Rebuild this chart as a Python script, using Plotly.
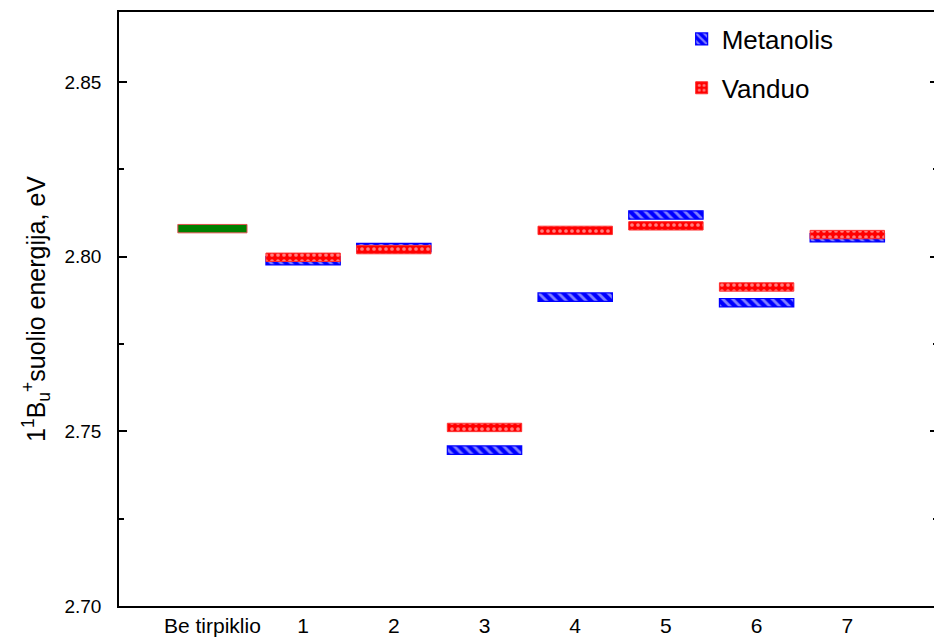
import plotly.graph_objects as go

categories = ["Be tirpiklio", "1", "2", "3", "4", "5", "6", "7"]
positions = [0, 1, 2, 3, 4, 5, 6, 7]
no_solvent = [2.8080]
metanolis = [2.7988, 2.8026, 2.7446, 2.7884, 2.8119, 2.7868, 2.8054]
vanduo = [2.7998, 2.8020, 2.7511, 2.8075, 2.8088, 2.7913, 2.8063]
y_ticks = [2.70, 2.75, 2.80, 2.85]

H = 0.0024
W = 0.82

fig = go.Figure()
fig.add_trace(go.Bar(
    x=positions[:1], y=[H] * len(no_solvent), base=[v - H / 2 for v in no_solvent],
    width=W * 0.93, showlegend=False,
    marker=dict(color="#008000", line=dict(color="#e05050", width=1)),
))
fig.add_trace(go.Bar(
    x=positions[1:], y=[H] * len(metanolis), base=[v - H / 2 for v in metanolis],
    width=W, name="Metanolis", legendgroup="m",
    marker=dict(color="blue", line=dict(color="blue", width=1.2),
                pattern=dict(shape="\\", fgcolor="white", bgcolor="blue", size=7, solidity=0.4)),
))
fig.add_trace(go.Bar(
    x=positions[1:], y=[H] * len(vanduo), base=[v - H / 2 for v in vanduo],
    width=W, name="Vanduo", legendgroup="v",
    marker=dict(color="red", line=dict(color="#ff3030", width=1),
                pattern=dict(shape=".", fgcolor="white", bgcolor="red", size=6, solidity=0.3)),
))

fig.update_layout(
    width=934, height=631,
    margin=dict(l=111, r=2, t=2, b=33),
    barmode="overlay",
    plot_bgcolor="white", paper_bgcolor="white",
    font=dict(family="Liberation Sans, Arial, sans-serif", color="black", size=20),
    showlegend=True,
    legend=dict(x=0.687, y=0.994, xanchor="left", yanchor="top",
                font=dict(size=26), tracegroupgap=12, bgcolor="rgba(0,0,0,0)"),
    xaxis=dict(range=[-1.03, 8.0], tickmode="array", tickvals=positions, ticktext=categories,
               showline=True, linecolor="black", linewidth=1.5, mirror=True,
               ticks="", showgrid=False, zeroline=False, tickfont=dict(size=21)),
    yaxis=dict(title=dict(text="1<sup>1</sup>B<sub>u</sub><sup>+</sup>suolio energija, eV",
                          font=dict(size=25), standoff=12),
               range=[2.70, 2.87], tickmode="array", tickvals=y_ticks,
               ticktext=[f"{v:.2f}" for v in y_ticks], ticklabelstandoff=12,
               showline=True, linecolor="black", linewidth=1.5, mirror="ticks",
               ticks="inside", ticklen=8, tickwidth=1.5, tickcolor="black",
               minor=dict(ticks="inside", ticklen=5, tickwidth=1.5, tickcolor="black",
                          tickvals=[2.725, 2.775, 2.825]),
               showgrid=False, zeroline=False, tickfont=dict(size=19)),
)

fig.write_html("out.html")
